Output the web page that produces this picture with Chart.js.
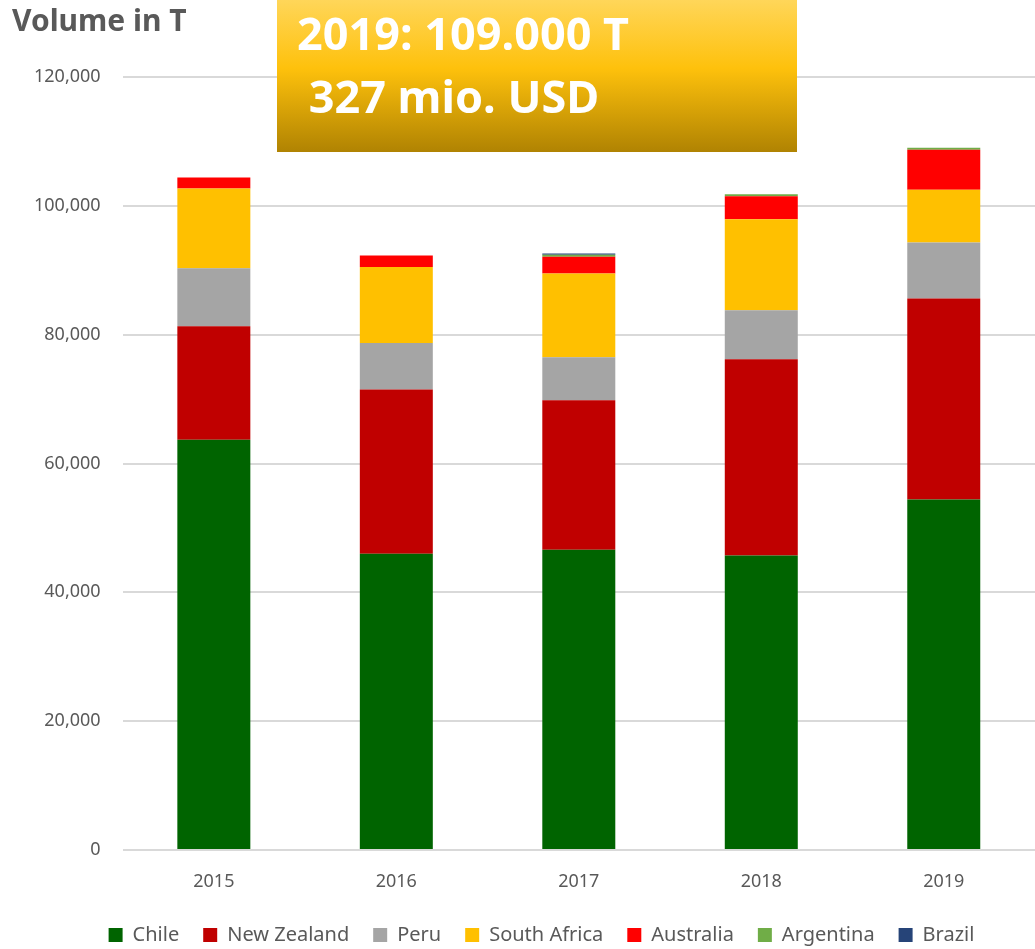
<!DOCTYPE html>
<html>
<head>
<meta charset="utf-8">
<script src="https://cdn.jsdelivr.net/npm/chart.js@4/dist/chart.umd.min.js"></script>
<style>
    html, body { margin: 0; padding: 0; background: #fff; }
    #wrap { width: 1035px; height: 949px; position: relative; }
</style>
</head>
<body>
<div id="wrap"><canvas id="chart"></canvas></div>
<script>
(function () {
    const years = ['2015', '2016', '2017', '2018', '2019'];
    const chile = [63700, 46000, 46600, 45700, 54400];
    const newZealand = [17600, 25500, 23200, 30500, 31200];
    const peru = [9000, 7200, 6700, 7600, 8700];
    const southAfrica = [12400, 11800, 13000, 14100, 8200];
    const australia = [1700, 1800, 2600, 3600, 6200];
    const argentina = [0, 0, 300, 300, 300];
    const brazil = [0, 0, 200, 0, 0];
    const yTicks = [0, 20000, 40000, 60000, 80000, 100000, 120000];

    const axisTitle = 'Volume in T';
    const boxLines = ['2019: 109.000 T', ' 327 mio. USD'];

    const textColor = '#595959';
    const gridColor = '#d9d9d9';
    const fontFamily = '"Noto Sans", "Open Sans", sans-serif';

    function series(label, data, color) {
        return {
            label: label,
            data: data,
            backgroundColor: color,
            borderWidth: 0,
            barPercentage: 0.4,
            categoryPercentage: 1
        };
    }

    // axis caption and the gold highlight box
    const overlay = {
        id: 'overlay',
        afterLayout: function (chart) {
            // legend sits a bit right of centre in the original
            if (chart.legend) {
                chart.legend.left += 18;
                chart.legend.right += 18;
            }
        },
        afterDraw: function (chart) {
            const ctx = chart.ctx;
            ctx.save();
            ctx.fillStyle = textColor;
            ctx.font = 'bold 30px ' + fontFamily;
            ctx.textBaseline = 'middle';
            ctx.textAlign = 'left';
            ctx.fillText(axisTitle, 12, 22);

            const x = 277, y = 0, w = 520, h = 152;
            const grad = ctx.createLinearGradient(0, y, 0, y + h);
            grad.addColorStop(0, '#ffd659');
            grad.addColorStop(0.45, '#fec10c');
            grad.addColorStop(1, '#b08302');
            ctx.fillStyle = grad;
            ctx.fillRect(x, y, w, h);

            ctx.fillStyle = '#ffffff';
            ctx.font = 'bold 45px ' + fontFamily;
            ctx.textBaseline = 'alphabetic';
            ctx.fillText(boxLines[0], 297, 50);
            ctx.fillText(boxLines[1], 297, 113);
            ctx.restore();
        }
    };

    new Chart(document.getElementById('chart').getContext('2d'), {
        type: 'bar',
        data: {
            labels: years.slice(),
            datasets: [
                series('Chile', chile, '#006400'),
                series('New Zealand', newZealand, '#c00000'),
                series('Peru', peru, '#a5a5a5'),
                series('South Africa', southAfrica, '#ffc000'),
                series('Australia', australia, '#ff0000'),
                series('Argentina', argentina, '#70ad47'),
                series('Brazil', brazil, '#264478')
            ]
        },
        options: {
            responsive: true,
            maintainAspectRatio: false,
            animation: false,
            layout: {
                padding: { top: 77, right: 0, left: 12, bottom: -6 }
            },
            plugins: {
                legend: {
                    position: 'bottom',
                    labels: {
                        color: textColor,
                        font: { family: fontFamily, size: 20 },
                        boxWidth: 14,
                        boxHeight: 14,
                        padding: 24
                    }
                },
                tooltip: { enabled: false }
            },
            scales: {
                x: {
                    stacked: true,
                    grid: { display: false },
                    border: { display: false },
                    ticks: {
                        color: textColor,
                        font: { family: fontFamily, size: 18 },
                        padding: 13
                    },
                    afterFit: function (axis) {
                        axis.height = 51;
                    }
                },
                y: {
                    stacked: true,
                    min: 0,
                    max: 120000,
                    afterBuildTicks: function (axis) {
                        axis.ticks = yTicks.map(function (v) { return { value: v }; });
                    },
                    grid: { color: gridColor, lineWidth: 2, drawTicks: false },
                    border: { display: false },
                    ticks: {
                        color: textColor,
                        font: { family: fontFamily, size: 18 },
                        padding: 22,
                        callback: function (v) { return v.toLocaleString('en-US'); }
                    }
                }
            }
        },
        plugins: [overlay]
    });
})();
</script>
</body>
</html>
